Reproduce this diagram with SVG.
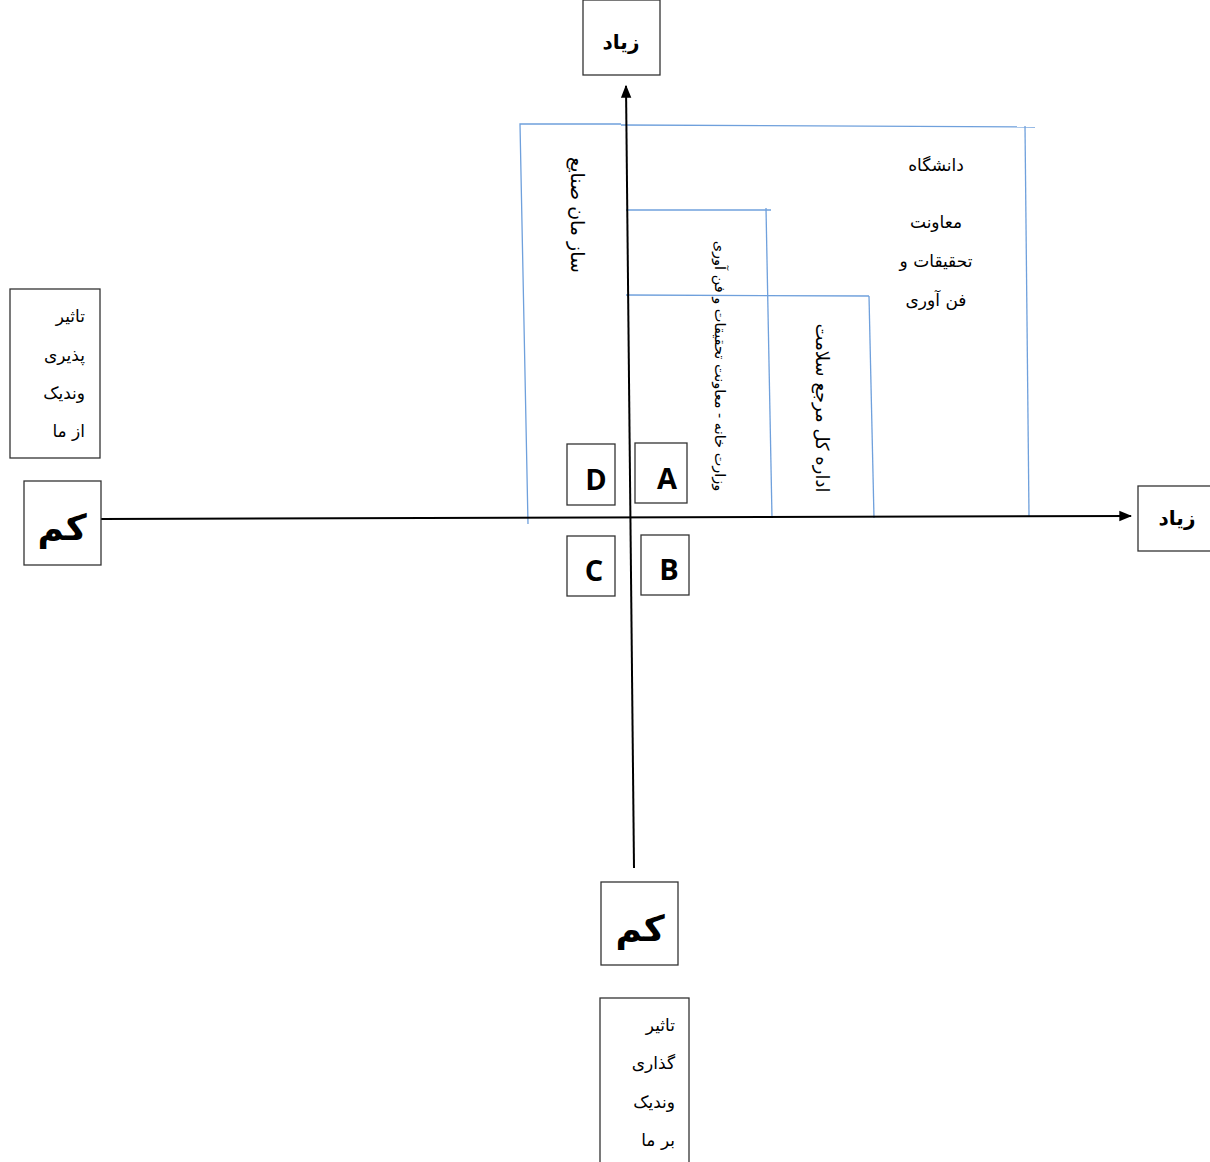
<svg xmlns="http://www.w3.org/2000/svg" width="1210" height="1162" viewBox="0 0 1210 1162">
<style>
.box{fill:#fff;stroke:#333;stroke-width:1.3}
.blue{fill:none;stroke:#6fa0dc;stroke-width:1.3}
.ax{stroke:#000;stroke-width:2;fill:none}
.fa{font-family:"DejaVu Sans","Noto Sans",sans-serif;fill:#000}
.lbl{font-size:17px}
.rt{direction:rtl;text-anchor:start}
.big{font-size:20px;font-weight:bold}
.huge{font-size:36px;font-weight:bold}
.let{font-family:"Open Sans","Liberation Sans",sans-serif;font-size:29px;font-weight:bold;text-anchor:middle}
</style>
<defs>
<marker id="arrH" viewBox="0 0 10 10" refX="9" refY="5" markerWidth="13" markerHeight="13" orient="auto" markerUnits="userSpaceOnUse">
<path d="M0,1 L10,5 L0,9 z" fill="#000"/>
</marker>
</defs>
<rect width="1210" height="1162" fill="#fff"/>

<g id="regions">
<polyline class="blue" points="528,524 520,124 621,124"/>
<polyline class="blue" points="621,125 1035,127"/>
<polyline class="blue" points="1025,126 1029,516"/>
<polyline class="blue" points="626,210 771,210"/>
<polyline class="blue" points="766,208 772,518"/>
<polyline class="blue" points="626,295 869,296"/>
<polyline class="blue" points="869,296 874,518"/>
</g>

<g id="connectors">
<line class="ax" x1="634" y1="868" x2="626" y2="86" marker-end="url(#arrH)"/>
<line class="ax" x1="101" y1="519" x2="1131" y2="516" marker-end="url(#arrH)"/>
</g>

<g id="top-high">
<rect class="box" x="583" y="0" width="77" height="75"/>
<text class="fa big" x="621" y="49" text-anchor="middle">زیاد</text>
</g>
<g id="right-high">
<rect class="box" x="1138" y="486" width="74" height="65"/>
<text class="fa big" x="1177" y="525" text-anchor="middle">زیاد</text>
</g>
<g id="left-low">
<rect class="box" x="24" y="481" width="77" height="84"/>
<text class="fa huge" x="62" y="540" text-anchor="middle">کم</text>
</g>
<g id="bottom-low">
<rect class="box" x="601" y="882" width="77" height="83"/>
<text class="fa huge" x="640" y="941" text-anchor="middle">کم</text>
</g>

<g id="left-caption">
<rect class="box" x="10" y="289" width="90" height="169"/>
<text class="fa lbl rt" x="85" y="322">تاثیر</text>
<text class="fa lbl rt" x="85" y="361">پذیری</text>
<text class="fa lbl rt" x="85" y="399">وندیک</text>
<text class="fa lbl rt" x="85" y="437">از ما</text>
</g>
<g id="bottom-caption">
<rect class="box" x="600" y="998" width="89" height="170"/>
<text class="fa lbl rt" x="675" y="1031">تاثیر</text>
<text class="fa lbl rt" x="675" y="1069">گذاری</text>
<text class="fa lbl rt" x="675" y="1108">وندیک</text>
<text class="fa lbl rt" x="675" y="1146">بر ما</text>
</g>

<g id="quad-D"><rect class="box" x="567" y="444" width="48" height="61"/><text class="let" x="596" y="490">D</text></g>
<g id="quad-A"><rect class="box" x="635" y="443" width="52" height="60"/><text class="let" x="667" y="489">A</text></g>
<g id="quad-C"><rect class="box" x="567" y="536" width="48" height="60"/><text class="let" x="594" y="581">C</text></g>
<g id="quad-B"><rect class="box" x="641" y="535" width="48" height="60"/><text class="let" x="669" y="580">B</text></g>

<g id="sazman">
<text class="fa" font-size="19" text-anchor="middle" transform="translate(571,215) rotate(90)">ساز مان صنایع</text>
</g>
<g id="vezarat">
<text class="fa" font-size="14.5" text-anchor="middle" transform="translate(715,366) rotate(90)">وزارت خانه - معاونت تحقیقات و فن آوری</text>
</g>
<g id="edare">
<text class="fa" font-size="18" text-anchor="middle" transform="translate(816,408) rotate(90)">اداره کل مرجع سلامت</text>
</g>
<g id="daneshgah">
<text class="fa lbl" x="936" y="171" text-anchor="middle">دانشگاه</text>
<text class="fa lbl" x="936" y="228" text-anchor="middle">معاونت</text>
<text class="fa lbl" x="936" y="267" text-anchor="middle">تحقیقات و</text>
<text class="fa lbl" x="936" y="306" text-anchor="middle">فن آوری</text>
</g>
</svg>
